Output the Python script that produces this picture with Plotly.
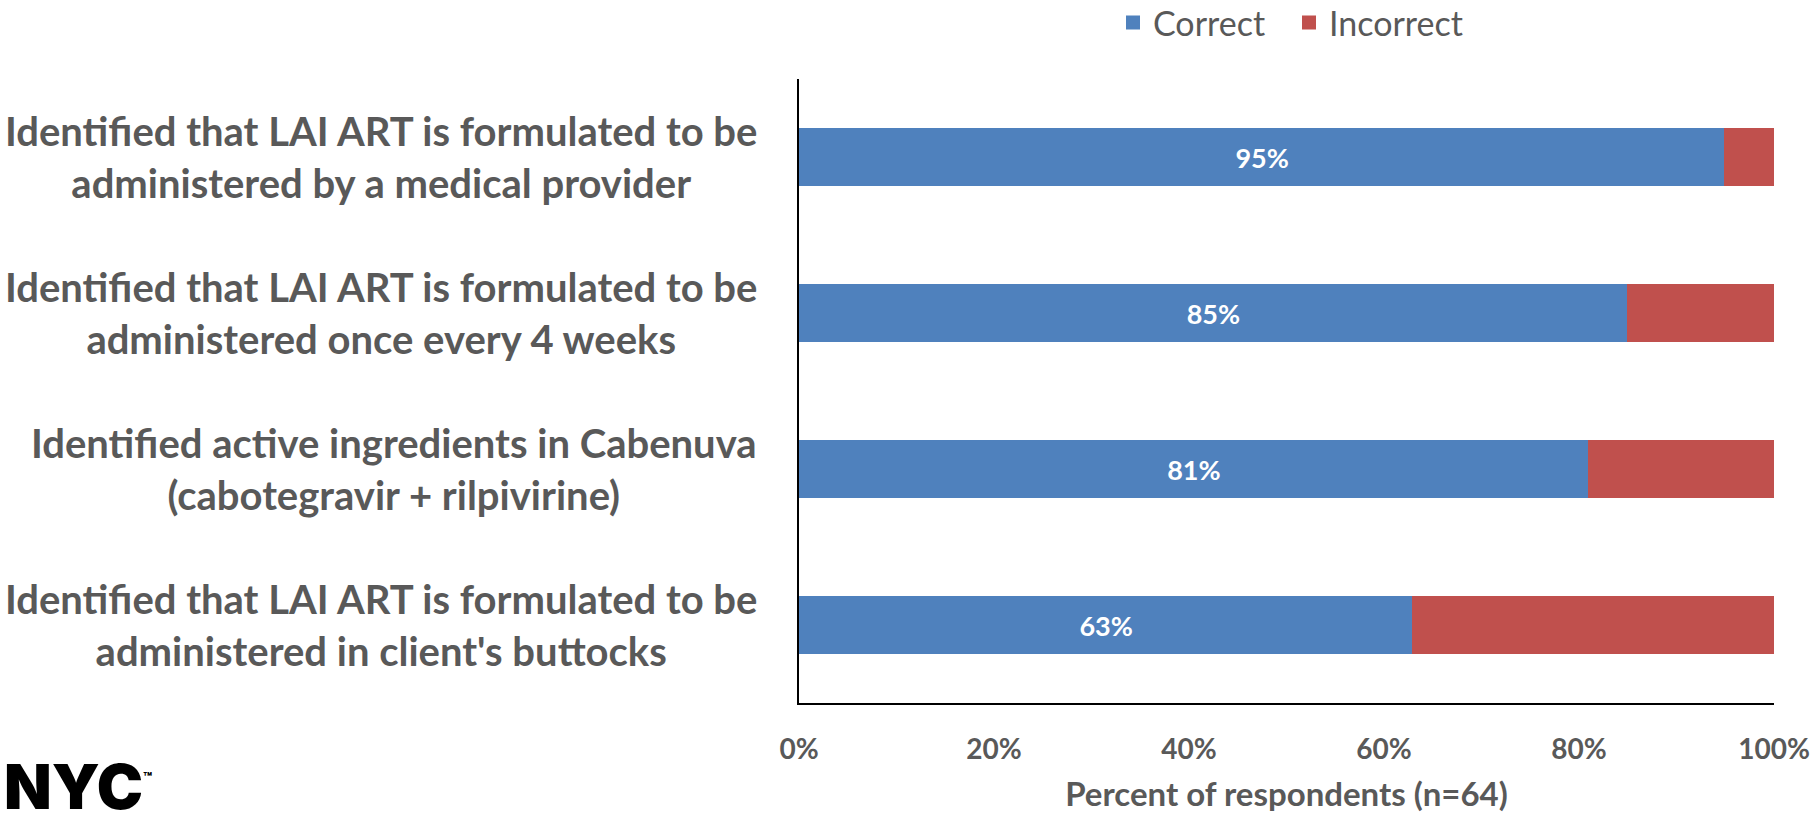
import plotly.graph_objects as go

categories = [
    "Identified that LAI ART is formulated to be<br>administered by a medical provider",
    "Identified that LAI ART is formulated to be<br>administered once every 4 weeks",
    "Identified active ingredients in Cabenuva<br>(cabotegravir + rilpivirine)",
    "Identified that LAI ART is formulated to be<br>administered in client's buttocks",
]
correct = [95, 85, 81, 63]
incorrect = [5, 15, 19, 37]
x_ticks = [0, 20, 40, 60, 80, 100]
x_tick_labels = ["0%", "20%", "40%", "60%", "80%", "100%"]

FONT = "Lato, 'Open Sans', sans-serif"
GRAY = "#595959"
BLUE = "#4F81BD"
RED = "#C0504D"

fig = go.Figure()
fig.add_trace(go.Bar(
    y=categories, x=correct, name="Correct", orientation="h",
    marker=dict(color=BLUE, line=dict(color=BLUE, width=2)),
    text=[f"{v}%" for v in correct], textposition="inside",
    insidetextanchor="middle",
    textfont=dict(family=FONT, size=27, color="white", weight="bold"),
    hoverinfo="skip",
))
fig.add_trace(go.Bar(
    y=categories, x=incorrect, name="Incorrect", orientation="h",
    marker=dict(color=RED, line=dict(color=RED, width=2)),
    hoverinfo="skip",
))

for c in categories:
    fig.add_annotation(
        x=0, xref="paper", y=c, yref="y", xanchor="right", yanchor="middle",
        xshift=-40, text=c, showarrow=False, align="center",
        font=dict(family=FONT, size=40, color=GRAY, weight="bold"),
    )

fig.add_annotation(
    x=-797 / 975, xref="paper", y=(703 - 786) / 624, yref="paper",
    xanchor="left", yanchor="middle", showarrow=False,
    text="NYC<sup><span style='font-size:14px'>™</span></sup>",
    font=dict(family="Inter, sans-serif", size=62, color="black", weight=900),
)

fig.update_layout(
    width=1816, height=813, autosize=False,
    margin=dict(l=799, r=42, t=79, b=110, autoexpand=False),
    barmode="stack", bargap=0.64,
    plot_bgcolor="white", paper_bgcolor="white",
    showlegend=True,
    legend=dict(
        orientation="h", x=(1113 - 799) / 975, xanchor="left",
        y=1 + (79 - 23) / 624, yanchor="middle",
        font=dict(family=FONT, size=34, color=GRAY),
        traceorder="normal", entrywidth=131, entrywidthmode="pixels",
    ),
    xaxis=dict(
        range=[0, 100], tickvals=x_ticks, ticktext=x_tick_labels,
        showgrid=False, zeroline=False, showline=True, linecolor="black",
        linewidth=2, ticks="", ticklabelstandoff=20,
        tickfont=dict(family=FONT, size=28, color=GRAY, weight="bold"),
        title=dict(text="Percent of respondents (n=64)", standoff=34,
                   font=dict(family=FONT, size=33, color=GRAY, weight="bold")),
    ),
    yaxis=dict(
        categoryorder="array", categoryarray=categories,
        autorange="reversed", showticklabels=False, ticks="",
        showgrid=False, zeroline=False, showline=True, linecolor="black",
        linewidth=2,
    ),
)

fig.write_html("out.html", config={"displayModeBar": False},
               post_script="document.body.style.margin='0';")
